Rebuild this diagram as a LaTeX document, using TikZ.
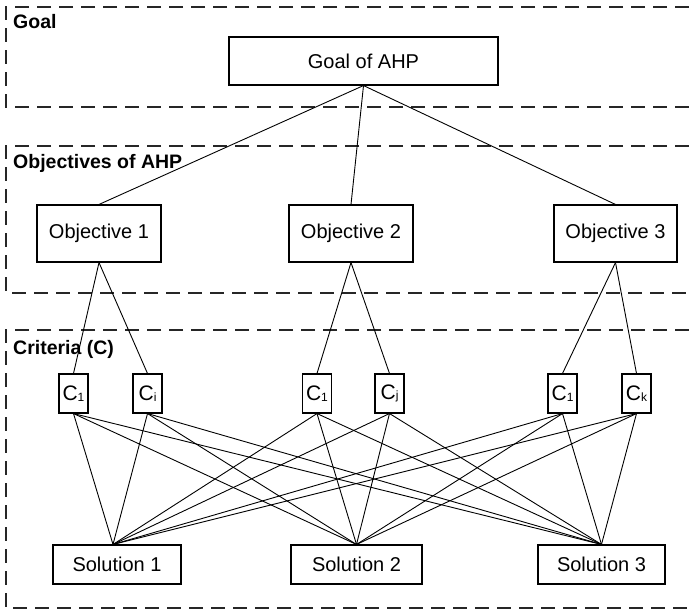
\documentclass[tikz,border=0pt]{standalone}
\usepackage{fontspec}
\setmainfont{Liberation Sans}
\begin{document}
\begin{tikzpicture}[x=1pt,y=-1pt,
  region/.style={draw=black!85, line width=1.4pt, dash pattern=on 14pt off 8pt},
  grouplabel/.style={anchor=base west, inner sep=0pt, font=\fontsize{19.5}{22}\selectfont\bfseries},
  box/.style={draw, line width=1.1pt, fill=white, inner sep=0pt, font=\fontsize{20}{24}\selectfont},
  crit/.style={box, minimum width=29pt, minimum height=39pt},
  link/.style={line width=0.9pt}]
\useasboundingbox (0,0) rectangle (689,611);

% grouping frames, open on the right
\draw[region] (689,7) -| (6,107) -- (689,107);
\draw[region] (689,146) -| (6,293) -- (689,293);
\draw[region] (689,330) -| (6,608) -- (689,608);

\node[grouplabel] (lgoal) at (13,28) {Goal};
\node[grouplabel] (lobj) at (13,168) {Objectives of AHP};
\node[grouplabel] (lcrit) at (13,354) {Criteria (C)};

% connectors first so the boxes sit on top
\coordinate (goaltop) at (363.5,85);

% goal
\node[box, minimum width=269pt, minimum height=48pt] (goal) at (363.5,61) {Goal of AHP};

% objectives
\node[box, minimum width=124pt, minimum height=57pt] (obj1) at (99,233.5) {Objective 1};
\node[box, minimum width=124pt, minimum height=57pt] (obj2) at (351,233.5) {Objective 2};
\node[box, minimum width=123pt, minimum height=57pt] (obj3) at (615.5,233.5) {Objective 3};

% criteria
\newcommand{\critlabel}[1]{{\fontsize{21}{24}\selectfont C}\raisebox{-0.5pt}{\fontsize{12}{14}\selectfont #1}}
\node[crit] (ca1) at (73.5,393.5) {\critlabel{1}};
\node[crit] (cai) at (147.5,393.5) {\critlabel{i}};
\node[crit] (cb1) at (317,393.5) {\critlabel{1}};
\node[crit] (cbj) at (389.5,393.5) {\critlabel{j}};
\node[crit] (cc1) at (562.5,393.5) {\critlabel{1}};
\node[crit] (cck) at (636.5,393.5) {\critlabel{k}};

% solutions
\node[box, minimum width=128pt, minimum height=39pt] (sol1) at (117,564.5) {Solution 1};
\node[box, minimum width=131pt, minimum height=39pt] (sol2) at (356.5,564.5) {Solution 2};
\node[box, minimum width=127pt, minimum height=39pt] (sol3) at (601.5,564.5) {Solution 3};
\coordinate (s1top) at ([xshift=-4pt]sol1.north);

% hierarchy links
\foreach \o in {obj1,obj2,obj3}
  \draw[link] (goal.south) -- (\o.north);
\draw[link] (obj1.south) -- (ca1.north);
\draw[link] (obj1.south) -- (cai.north);
\draw[link] (obj2.south) -- (cb1.north);
\draw[link] (obj2.south) -- (cbj.north);
\draw[link] (obj3.south) -- (cc1.north);
\draw[link] (obj3.south) -- (cck.north);

% every criterion feeds every solution
\foreach \c in {ca1,cai,cb1,cbj,cc1,cck}{
  \draw[link] (\c.south) -- (s1top);
  \draw[link] (\c.south) -- (sol2.north);
  \draw[link] (\c.south) -- (sol3.north);
}
\end{tikzpicture}
\end{document}
